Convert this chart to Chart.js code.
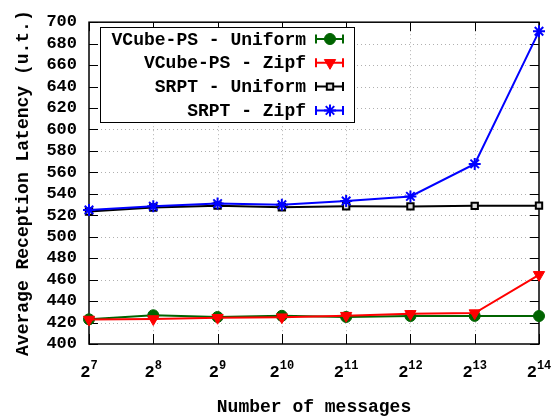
<!DOCTYPE html>
<html>
<head>
<meta charset="utf-8">
<script src="https://cdn.jsdelivr.net/npm/chart.js@4.4.0/dist/chart.umd.min.js"></script>
<style>
  html, body { margin: 0; padding: 0; background: #fff; }
  #wrap { width: 560px; height: 418px; }
</style>
</head>
<body>
<div id="wrap"><canvas id="latencyChart" width="560" height="418"></canvas></div>
<script>
// exponent of 2 for the number of messages
const exponents = [7, 8, 9, 10, 11, 12, 13, 14];
const vcubeUniform = [423, 426.8, 425.2, 426.3, 425.2, 426.1, 426.2, 426.1];
const vcubeZipf = [422.8, 423.3, 424.5, 425, 426.4, 428.1, 428.8, 464.5];
const srptUniform = [523.5, 527.2, 529, 527.5, 528.4, 528.3, 528.8, 529];
const srptZipf = [525, 528.4, 530.9, 529.8, 533.3, 537.6, 567.9, 691.5];
const yTicks = [400, 420, 440, 460, 480, 500, 520, 540, 560, 580, 600, 620, 640, 660, 680, 700];

const FONT = "'Liberation Mono', 'DejaVu Sans Mono', monospace";

function pts(values) {
    return exponents.map((e, i) => ({ x: e, y: values[i] }));
}

// dotted grid, frame and inward ticks like the gnuplot original
const framePlugin = {
    id: 'frame',
    beforeDatasetsDraw(chart) {
        const { ctx, chartArea: a, scales } = chart;
        ctx.save();
        ctx.strokeStyle = '#b0b0b0';
        ctx.lineWidth = 1;
        ctx.setLineDash([1, 3]);
        yTicks.slice(1, -1).forEach(v => {
            const y = Math.round(scales.y.getPixelForValue(v)) + 0.5;
            ctx.beginPath(); ctx.moveTo(a.left, y); ctx.lineTo(a.right, y); ctx.stroke();
        });
        exponents.slice(1, -1).forEach(e => {
            const x = Math.round(scales.x.getPixelForValue(e)) + 0.5;
            ctx.beginPath(); ctx.moveTo(x, a.top); ctx.lineTo(x, a.bottom); ctx.stroke();
        });
        ctx.setLineDash([]);
        ctx.strokeStyle = '#000';
        ctx.lineWidth = 1;
        yTicks.forEach(v => {
            const y = Math.round(scales.y.getPixelForValue(v)) + 0.5;
            ctx.beginPath();
            ctx.moveTo(a.left, y); ctx.lineTo(a.left + 9, y);
            ctx.moveTo(a.right, y); ctx.lineTo(a.right - 9, y);
            ctx.stroke();
        });
        exponents.forEach(e => {
            const x = Math.round(scales.x.getPixelForValue(e)) + 0.5;
            ctx.beginPath();
            ctx.moveTo(x, a.bottom); ctx.lineTo(x, a.bottom - 10);
            ctx.moveTo(x, a.top); ctx.lineTo(x, a.top + 9);
            ctx.stroke();
        });
        ctx.lineWidth = 1.5;
        ctx.strokeRect(a.left, a.top, a.right - a.left, a.bottom - a.top);

        // x tick labels 2^n with a raised exponent
        ctx.fillStyle = '#000';
        ctx.textBaseline = 'alphabetic';
        ctx.textAlign = 'left';
        exponents.forEach(e => {
            const x = scales.x.getPixelForValue(e);
            ctx.font = 'bold 17px ' + FONT;
            const wb = ctx.measureText('2').width;
            ctx.font = 'bold 12px ' + FONT;
            const we = ctx.measureText(String(e)).width;
            const start = x - (wb + we) / 2;
            ctx.font = 'bold 17px ' + FONT;
            ctx.fillText('2', start, a.bottom + 33);
            ctx.font = 'bold 12px ' + FONT;
            ctx.fillText(String(e), start + wb, a.bottom + 25);
        });
        ctx.restore();
    },
    afterDatasetsDraw(chart) {
        // key box in the upper left, text right-aligned then the sample
        const { ctx } = chart;
        const box = { left: 100, top: 27, right: 354, bottom: 122 };
        ctx.save();
        ctx.fillStyle = '#fff';
        ctx.fillRect(box.left, box.top, box.right - box.left, box.bottom - box.top);
        ctx.strokeStyle = '#000';
        ctx.lineWidth = 1;
        ctx.strokeRect(box.left + 0.5, box.top + 0.5, box.right - box.left, box.bottom - box.top);
        ctx.font = 'bold 18px ' + FONT;
        ctx.textAlign = 'right';
        ctx.textBaseline = 'middle';
        chart.data.datasets.forEach((ds, i) => {
            const y = 39 + i * 23.8;
            ctx.fillStyle = '#000';
            ctx.fillText(ds.label, 306, y + 1);
            ctx.strokeStyle = ds.borderColor;
            ctx.lineWidth = 2;
            ctx.beginPath();
            ctx.moveTo(316, y); ctx.lineTo(343, y);
            ctx.moveTo(316, y - 4.5); ctx.lineTo(316, y + 4.5);
            ctx.moveTo(343, y - 4.5); ctx.lineTo(343, y + 4.5);
            ctx.stroke();
            ctx.fillStyle = ds.pointBackgroundColor;
            ctx.strokeStyle = ds.borderColor;
            ctx.lineWidth = ds.pointBorderWidth;
            Chart.helpers.drawPoint(ctx, {
                pointStyle: ds.pointStyle,
                rotation: ds.pointRotation || 0,
                radius: ds.pointRadius,
                borderWidth: ds.pointBorderWidth
            }, 330, y);
        });
        ctx.restore();
    }
};

new Chart(document.getElementById('latencyChart'), {
    type: 'line',
    data: {
        datasets: [
            {
                label: 'VCube-PS - Uniform',
                data: pts(vcubeUniform),
                borderColor: '#006400',
                backgroundColor: '#006400',
                pointBackgroundColor: '#006400',
                pointStyle: 'circle',
                pointRadius: 5.5,
                pointBorderWidth: 1,
                borderWidth: 2,
                order: 4
            },
            {
                label: 'VCube-PS - Zipf',
                data: pts(vcubeZipf),
                borderColor: '#ff0000',
                backgroundColor: '#ff0000',
                pointBackgroundColor: '#ff0000',
                pointStyle: 'triangle',
                pointRotation: 180,
                pointRadius: 6.5,
                pointBorderWidth: 1,
                borderWidth: 2,
                order: 3
            },
            {
                label: 'SRPT - Uniform',
                data: pts(srptUniform),
                borderColor: '#000000',
                backgroundColor: '#ffffff',
                pointBackgroundColor: '#dddddd',
                pointStyle: 'rect',
                pointRadius: 4.5,
                pointBorderWidth: 2,
                borderWidth: 2,
                order: 2
            },
            {
                label: 'SRPT - Zipf',
                data: pts(srptZipf),
                borderColor: '#0000ff',
                backgroundColor: '#0000ff',
                pointBackgroundColor: '#0000ff',
                pointStyle: 'star',
                pointRadius: 6,
                pointBorderWidth: 2,
                borderWidth: 2,
                order: 1
            }
        ]
    },
    options: {
        responsive: false,
        animation: false,
        clip: false,
        layout: { padding: { left: 0, right: 21, top: 17, bottom: 0 } },
        plugins: {
            legend: { display: false },
            tooltip: { enabled: false }
        },
        elements: { line: { tension: 0 } },
        scales: {
            x: {
                type: 'linear',
                min: 7,
                max: 14,
                afterFit: s => { s.height = 74; },
                grid: { display: false },
                border: { display: false },
                ticks: { display: false, stepSize: 1 },
                title: {
                    display: true,
                    text: 'Number of messages',
                    color: '#000',
                    font: { family: FONT, size: 18, weight: 'bold' },
                    padding: { top: 0, bottom: 0 }
                }
            },
            y: {
                min: 400,
                max: 700,
                afterFit: s => { s.width = 89; },
                afterBuildTicks: s => { s.ticks = yTicks.map(v => ({ value: v })); },
                grid: { display: false, drawTicks: false },
                border: { display: false },
                ticks: {
                    color: '#000',
                    padding: 12,
                    autoSkip: false,
                    font: { family: FONT, size: 17, weight: 'bold' }
                },
                title: {
                    display: true,
                    text: 'Average Reception Latency (u.t.)',
                    color: '#000',
                    font: { family: FONT, size: 18, weight: 'bold' },
                    padding: { top: 13, bottom: 0 }
                }
            }
        }
    },
    plugins: [framePlugin]
});
</script>
</body>
</html>
